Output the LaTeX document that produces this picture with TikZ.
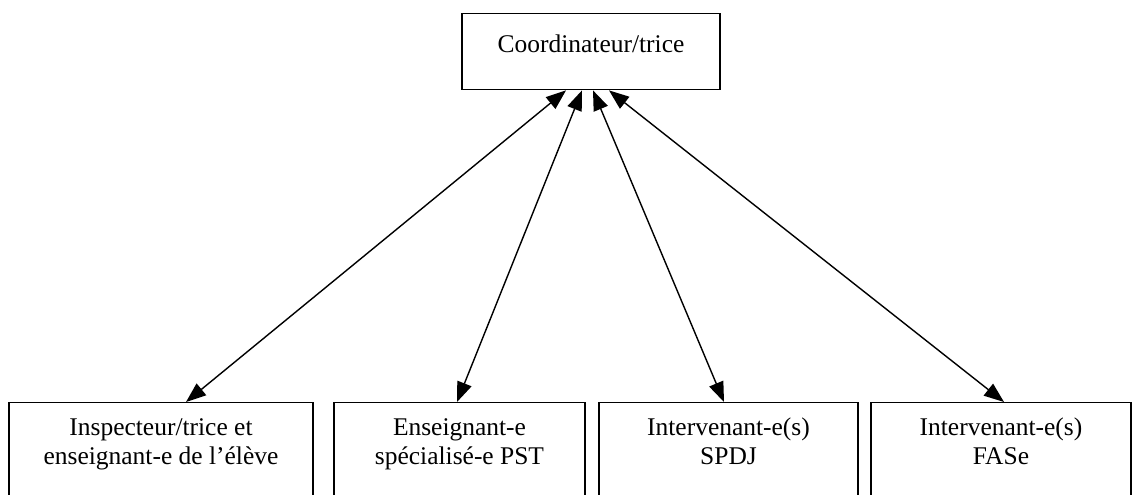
\documentclass[tikz,border=0pt]{standalone}
\usepackage{fontspec}
\setmainfont{Liberation Serif}
\usetikzlibrary{arrows.meta}
\newcommand{\lowtext}[2]{\parbox[c][2cm][t]{#1}{\centering\rule{0pt}{18.8pt}#2}}

\begin{document}
\begin{tikzpicture}[
		x=0.02cm, y=-0.02cm,
		every node/.style={font=\fontsize{14.5}{16.2}\selectfont},
		topbox/.style={draw, line width=0.8pt, anchor=north, text depth=9pt,
		      minimum width=5.16cm, minimum height=1.52cm},
		lowbox/.style={draw, line width=0.8pt, anchor=north, inner sep=0pt},
		link/.style={{Triangle[length=0.4cm, width=0.3cm]}-{Triangle[length=0.4cm, width=0.3cm]},
		      line width=0.8pt}
	]
		\clip (0,0) rectangle (1135,494);
		\node[topbox] (coord) at (591,13) {Coordinateur/trice};
		\node[lowbox] (inspect) at (161,402)
		     {\lowtext{6.08cm}{Inspecteur/trice et\\enseignant-e de l'élève}};
		\node[lowbox] (enseign) at (459.5,402)
		     {\lowtext{5.02cm}{Enseignant-e\\spécialisé-e PST}};
		\node[lowbox] (spdj) at (728.5,402)
		     {\lowtext{5.18cm}{Intervenant-e(s)\\SPDJ}};
		\node[lowbox] (fase) at (1001,402)
		     {\lowtext{5.2cm}{Intervenant-e(s)\\FASe}};
		\draw[link] ([xshift=-0.5cm]coord.south) -- ([xshift=0.5cm]inspect.north);
		\draw[link] ([xshift=-0.18cm]coord.south) -- ([xshift=-0.05cm]enseign.north);
		\draw[link] ([xshift=0.04cm]coord.south) -- ([xshift=-0.09cm]spdj.north);
		\draw[link] ([xshift=0.36cm]coord.south) -- ([xshift=0.06cm]fase.north);
	\end{tikzpicture}
\end{document}
